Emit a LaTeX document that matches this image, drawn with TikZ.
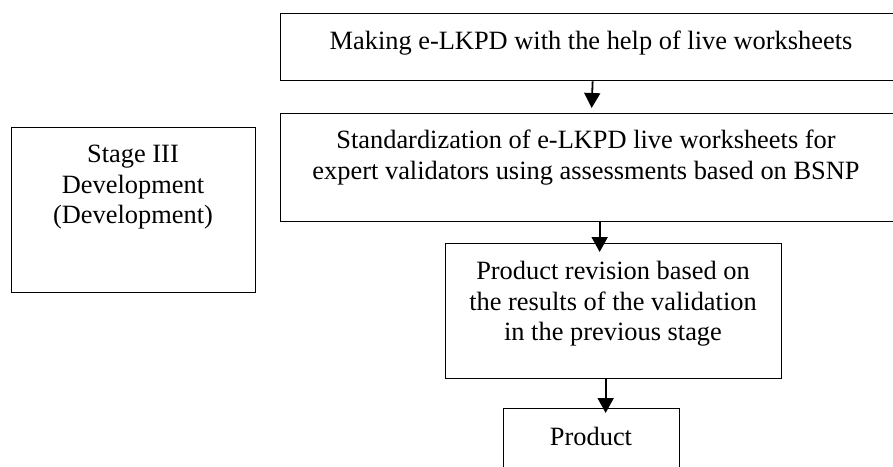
\documentclass[tikz,border=0pt]{standalone}
\usepackage{fontspec}
\setmainfont{Liberation Serif}
\usetikzlibrary{arrows.meta}

\begin{document}
\begin{tikzpicture}[x=1pt, y=-1pt,
  box/.style={draw, line width=1.3pt, inner sep=0pt, anchor=north west},
  boxtext/.style={anchor=north, align=center, inner sep=0pt, font=\fontsize{26.4}{30.5}\selectfont},
  flow/.style={-{Triangle[width=16pt, length=15pt]}, line width=1.8pt}]
% Fix the page to the reference size
\clip (0,0) rectangle (893,466);
\fill[white] (0,0) rectangle (893,466);

% Draw the boxes
\node[box, minimum width=624pt, minimum height=67pt] (making) at (280,13) {};
\node[box, minimum width=624pt, minimum height=108pt] (standard) at (280,113) {};
\node[box, minimum width=244pt, minimum height=165pt] (stage) at (11,127) {};
\node[box, minimum width=336pt, minimum height=135pt] (revision) at (445,243) {};
\node[box, minimum width=176pt, minimum height=80pt] (product) at (503,408) {};

% Insert the texts
\node[boxtext] (makingtext) at (591,31) {Making e-LKPD with the help of live worksheets};
\node[boxtext] (standardtext) at (586,130) {Standardization of e-LKPD live worksheets for\\expert validators using assessments based on BSNP};
\node[boxtext] (stagetext) at (133,145) {Stage III\\Development\\(Development)};
\node[boxtext] (revisiontext) at (613,261) {Product revision based on\\the results of the validation\\in the previous stage};
\node[boxtext] (producttext) at (591,427) {Product};

% Arrows between the steps
\draw[flow] (making.south) -- ([xshift=-1pt, yshift=5pt]standard.north);
\draw[flow] ([xshift=7pt]standard.south) -- ([xshift=-14pt, yshift=-9pt]revision.north);
\draw[flow] ([xshift=-8pt]revision.south) -- ([xshift=14pt, yshift=-5pt]product.north);
\end{tikzpicture}
\end{document}
